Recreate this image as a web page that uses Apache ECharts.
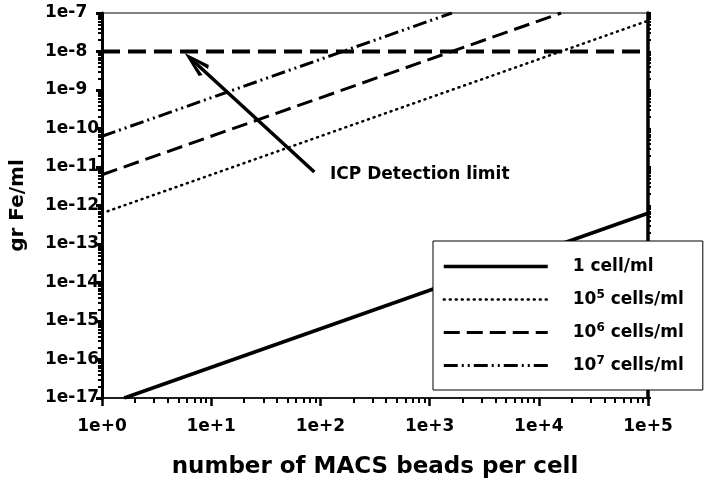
<!DOCTYPE html>
<html>
<head>
<meta charset="utf-8">
<script src="https://cdn.jsdelivr.net/npm/echarts@6/dist/echarts.min.js"></script>
<style>
  html, body { margin: 0; padding: 0; background: #fff; }
  #chart { width: 714px; height: 491px; }
</style>
</head>
<body>
<div id="chart"></div>
<script>
// series values, [beads per cell, gr Fe/ml]
const oneCell   = [[1.6, 1e-17], [1e5, 6.3e-13]];
const cells1e5  = [[1, 6.3e-13], [1e5, 6.3e-8]];
const cells1e6  = [[1, 6.3e-12], [1.6e4, 1e-7]];
const cells1e7  = [[1, 6.3e-11], [1.6e3, 1e-7]];
const detection = [[1, 1e-8], [1e5, 1e-8]];
// arrow annotation (tail near the label, head on the detection line)
const arrowFrom = [88, 7.4e-12];
const arrowTo   = [7.1, 5.2e-9];

const seriesNames = ['1 cell/ml', '10^5 cells/ml', '10^6 cells/ml', '10^7 cells/ml'];

// tick positions
const minorMult = [2, 3, 4, 5, 6, 7, 8, 9];
const xDecades = [1, 10, 100, 1000, 10000];
const yDecades = [1e-17, 1e-16, 1e-15, 1e-14, 1e-13, 1e-12, 1e-11, 1e-10, 1e-9, 1e-8];
const minorX = xDecades.flatMap(d => minorMult.map(m => m * d));
const minorY = yDecades.flatMap(d => minorMult.map(m => m * d));

const FONT = 'DejaVu Sans';
const chart = echarts.init(document.getElementById('chart'));

function expLabel(v, plus) {
    const n = Math.round(Math.log10(v));
    return '1e' + (n >= 0 && plus ? '+' : '') + n;
}

const labelStyle = { fontFamily: FONT, fontWeight: 'bold', fontSize: 17, color: '#000' };

const option = {
    backgroundColor: '#fff',
    animation: false,
    grid: { left: 100, right: 66, top: 13, bottom: 93, show: true, borderColor: '#000', borderWidth: 1 },
    legend: {
        orient: 'vertical',
        left: 433,
        top: 241,
        data: seriesNames,
        backgroundColor: '#fff',
        borderColor: '#000',
        borderWidth: 1,
        borderRadius: 0,
        padding: [17, 19, 16, 9],
        itemWidth: 104,
        itemHeight: 14,
        itemGap: 14,
        lineStyle: { width: 'inherit' },
        itemStyle: { opacity: 0, color: 'transparent', borderWidth: 0 },
        formatter: name => name.replace(/\^(\d)/, '{sup|$1}'),
        textStyle: {
            fontFamily: FONT, fontWeight: 'bold', fontSize: 17, color: '#000',
            lineHeight: 14, padding: [0, 0, 0, 20],
            rich: {
                sup: { fontFamily: FONT, fontWeight: 'bold', fontSize: 12, color: '#000', padding: [0, 0, 9, 0] }
            }
        }
    },
    xAxis: [
        {
            type: 'log', min: 1, max: 1e5, logBase: 10, interval: 1,
            name: 'number of MACS beads per cell',
            nameLocation: 'middle', nameGap: 58,
            nameTextStyle: { fontFamily: FONT, fontWeight: 'bold', fontSize: 23, color: '#000' },
            axisLine: { lineStyle: { color: '#000', width: 1.5 } },
            axisTick: { length: 8, lineStyle: { color: '#000', width: 2.5 } },
            axisLabel: Object.assign({ margin: 20, interval: 0, formatter: v => expLabel(v, true) }, labelStyle),
            splitLine: { show: false }
        },
        {
            type: 'log', min: 1, max: 1e5, position: 'bottom',
            axisLine: { show: false },
            axisTick: { customValues: minorX, length: 5, lineStyle: { color: '#000', width: 2 } },
            axisLabel: { show: false },
            splitLine: { show: false }
        }
    ],
    yAxis: [
        {
            type: 'log', min: 1e-17, max: 1e-7, logBase: 10, interval: 1,
            name: 'gr Fe/ml',
            nameLocation: 'middle', nameGap: 74,
            nameTextStyle: { fontFamily: FONT, fontWeight: 'bold', fontSize: 20, color: '#000' },
            axisLine: { lineStyle: { color: '#000', width: 3 } },
            axisTick: { length: 6, interval: 0, lineStyle: { color: '#000', width: 3 } },
            axisLabel: Object.assign({ margin: 57, align: 'left', interval: 0, formatter: v => expLabel(v, false) }, labelStyle),
            splitLine: { show: false }
        },
        {
            type: 'log', min: 1e-17, max: 1e-7, position: 'left',
            axisLine: { show: false },
            axisTick: { customValues: minorY, length: 4, lineStyle: { color: '#000', width: 2 } },
            axisLabel: { show: false },
            splitLine: { show: false }
        },
        {
            type: 'log', min: 1e-17, max: 1e-7, position: 'right', interval: 1,
            axisLine: { show: true, lineStyle: { color: '#000', width: 3.5 } },
            axisTick: { length: 3, lineStyle: { color: '#000', width: 2 } },
            axisLabel: { show: false },
            splitLine: { show: false }
        },
        {
            type: 'log', min: 1e-17, max: 1e-7, position: 'right',
            axisLine: { show: false },
            axisTick: { customValues: minorY, length: 3, lineStyle: { color: '#000', width: 2 } },
            axisLabel: { show: false },
            splitLine: { show: false }
        }
    ],
    graphic: [
        {
            type: 'text', left: 330, top: 166,
            style: { text: 'ICP Detection limit', fontFamily: FONT, fontWeight: 'bold', fontSize: 17, fill: '#000' }
        }
    ],
    series: [
        {
            name: 'ICP Detection limit', type: 'line', data: detection,
            symbol: 'none', silent: true,
            lineStyle: { color: '#000', width: 4, type: [18, 8] },
            markLine: {
                silent: true,
                symbol: ['none', 'path://M7,0 L14,26 L10.8,28 L7.9,13 L7.9,28 L6.1,28 L6.1,13 L3.2,28 L0,26 Z'],
                symbolSize: [15, 28],
                label: { show: false },
                lineStyle: { color: '#000', width: 3.5, type: 'solid' },
                data: [[{ coord: arrowFrom }, { coord: arrowTo }]]
            }
        },
        {
            name: seriesNames[0], type: 'line', data: oneCell, symbol: 'none',
            itemStyle: { color: '#000' },
            lineStyle: { color: '#000', width: 3.5 }
        },
        {
            name: seriesNames[1], type: 'line', data: cells1e5, symbol: 'none',
            itemStyle: { color: '#000' },
            lineStyle: { color: '#000', width: 2.5, type: [1, 5], cap: 'round' }
        },
        {
            name: seriesNames[2], type: 'line', data: cells1e6, symbol: 'none',
            itemStyle: { color: '#000' },
            lineStyle: { color: '#000', width: 3, type: [16, 7] }
        },
        {
            name: seriesNames[3], type: 'line', data: cells1e7, symbol: 'none',
            itemStyle: { color: '#000' },
            lineStyle: { color: '#000', width: 3, type: [14, 4, 2, 4, 2, 4] }
        }
    ]
};

chart.setOption(option);
</script>
</body>
</html>
